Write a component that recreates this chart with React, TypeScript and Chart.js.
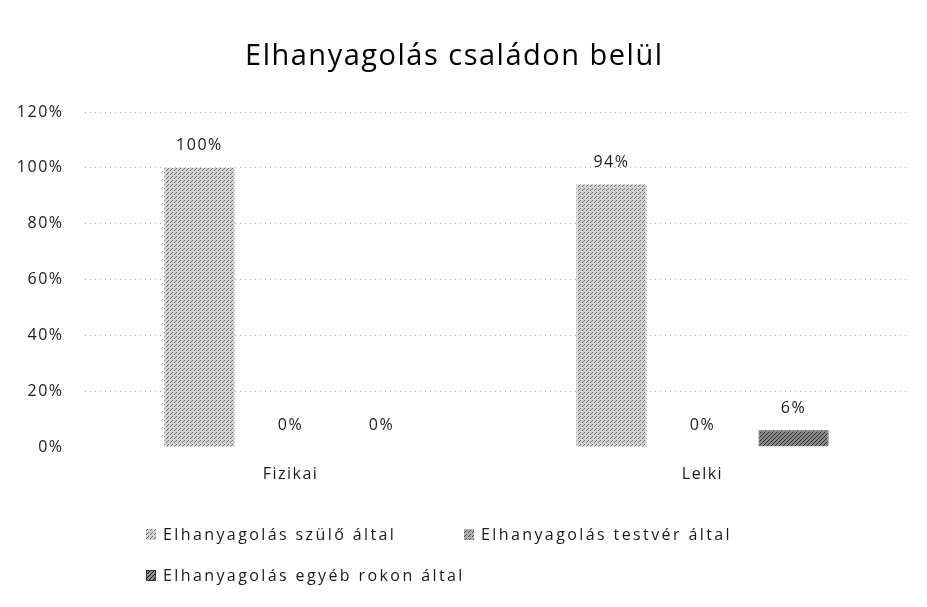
import React, { useEffect, useRef } from "react";
import { Chart, registerables } from "chart.js";

Chart.register(...registerables);

const categories = ["Fizikai", "Lelki"];
const seriesNames = [
  "Elhanyagolás szülő által",
  "Elhanyagolás testvér által",
  "Elhanyagolás egyéb rokon által",
];
const szuloAltal = [1.0, 0.94];
const testverAltal = [0, 0];
const egyebRokonAltal = [0, 0.06];
const titleText = "Elhanyagolás családon belül";
const yMax = 1.2;
const yStep = 0.2;

function makePattern(base: string, dot: string, dots: number[][]) {
  const c = document.createElement("canvas");
  c.width = 4;
  c.height = 4;
  const g = c.getContext("2d")!;
  g.fillStyle = base;
  g.fillRect(0, 0, 4, 4);
  g.fillStyle = dot;
  dots.forEach(([x, y]) => g.fillRect(x, y, 1, 1));
  const ctx = document.createElement("canvas").getContext("2d")!;
  return ctx.createPattern(c, "repeat")!;
}

const FONT = "'Open Sans', 'Noto Sans', sans-serif";

export default function App() {
  const ref = useRef<HTMLCanvasElement>(null);

  useEffect(() => {
    if (!ref.current) return;
    const p1 = makePattern("#d2d2d2", "#6e6e6e", [[0, 0], [2, 2], [3, 1]]);
    const p2 = makePattern("#b0b0b0", "#4a4a4a", [[0, 0], [2, 2], [1, 3]]);
    const p3 = makePattern("#8c8c8c", "#262626", [[0, 0], [2, 2], [3, 1], [1, 3]]);
    const fills = [p1, p2, p3];

    const spacingPlugin = {
      id: "spacing",
      beforeDraw(chart: any) {
        chart.ctx.letterSpacing = "1.5px";
      },
    };

    const dataLabels = {
      id: "dataLabels",
      afterDatasetsDraw(chart: any) {
        const ctx = chart.ctx;
        ctx.save();
        ctx.font = `16px ${FONT}`;
        ctx.fillStyle = "#1a1a1a";
        ctx.textAlign = "center";
        ctx.textBaseline = "middle";
        ctx.letterSpacing = "1.5px";
        chart.data.datasets.forEach((ds: any, i: number) => {
          const meta = chart.getDatasetMeta(i);
          meta.data.forEach((bar: any, j: number) => {
            const v = ds.data[j];
            ctx.fillText(`${Math.round(v * 100)}%`, bar.x, bar.y - 22);
          });
        });
        ctx.restore();
      },
    };

    const legendPlugin = {
      id: "customLegend",
      afterDraw(chart: any) {
        const ctx = chart.ctx;
        const items = [
          { x: 146, y: 535 },
          { x: 464, y: 535 },
          { x: 146, y: 576 },
        ];
        ctx.save();
        ctx.font = `16px ${FONT}`;
        ctx.textBaseline = "middle";
        ctx.textAlign = "left";
        ctx.letterSpacing = "2.4px";
        chart.data.datasets.forEach((ds: any, i: number) => {
          const it = items[i];
          ctx.fillStyle = fills[i];
          ctx.fillRect(it.x, it.y - 6, 10, 11);
          if (i === 2) {
            ctx.strokeStyle = "#333";
            ctx.lineWidth = 1;
            ctx.strokeRect(it.x + 0.5, it.y - 5.5, 9, 10);
          }
          ctx.fillStyle = "#1a1a1a";
          ctx.fillText(ds.label, it.x + 17, it.y);
        });
        ctx.restore();
      },
    };

    const chart = new Chart(ref.current, {
      type: "bar",
      data: {
        labels: categories,
        datasets: [
          {
            label: seriesNames[0],
            data: szuloAltal,
            backgroundColor: p1 as any,
            categoryPercentage: 0.663,
            barPercentage: 0.77,
          },
          {
            label: seriesNames[1],
            data: testverAltal,
            backgroundColor: p2 as any,
            categoryPercentage: 0.663,
            barPercentage: 0.77,
          },
          {
            label: seriesNames[2],
            data: egyebRokonAltal,
            backgroundColor: p3 as any,
            borderColor: "#333",
            borderWidth: 1,
            categoryPercentage: 0.663,
            barPercentage: 0.77,
          },
        ],
      },
      options: {
        responsive: false,
        animation: false,
        devicePixelRatio: 1,
        layout: { padding: { left: 0, right: 18.5, top: 0, bottom: 120 } },
        plugins: {
          legend: { display: false },
          tooltip: { enabled: false },
          title: {
            display: true,
            text: titleText,
            color: "#000",
            font: { family: FONT, size: 29, weight: "normal" },
            padding: { top: 39.5, bottom: 37.7 },
          },
        },
        scales: {
          x: {
            grid: { display: false, drawTicks: false },
            border: { display: false },
            ticks: {
              color: "#1a1a1a",
              font: { family: FONT, size: 16 },
              padding: 18,
            },
            afterFit: (scale: any) => {
              scale.height = 40;
            },
          },
          y: {
            min: 0,
            max: yMax,
            grid: {
              drawTicks: false,
              color: (c: any) =>
                c.tick && c.tick.value === 0 ? "rgba(0,0,0,0)" : "#a8a8a8",
              lineWidth: 1,
            },
            border: { display: false, dash: [1, 4] },
            ticks: {
              stepSize: yStep,
              color: "#1a1a1a",
              font: { family: FONT, size: 16 },
              padding: 21,
              callback: (v: any) => `${Math.round(Number(v) * 100)}%`,
            },
            afterFit: (scale: any) => {
              scale.width = 84.5;
            },
          },
        },
      },
      plugins: [spacingPlugin, dataLabels, legendPlugin],
    });
    return () => chart.destroy();
  }, []);

  return (
    <div style={{ position: "fixed", left: 0, top: 0, width: 927, height: 607, background: "#fff" }}>
      <canvas ref={ref} width={927} height={607} />
    </div>
  );
}
